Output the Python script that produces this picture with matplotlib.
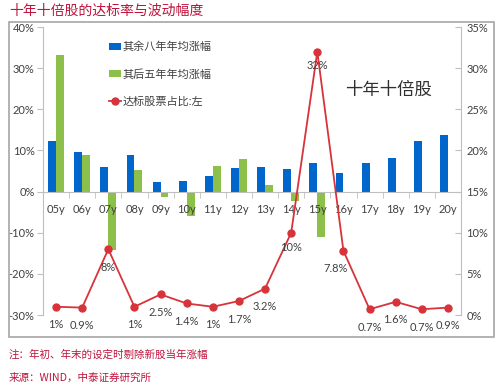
import matplotlib
matplotlib.use("Agg")
import matplotlib.pyplot as plt
from matplotlib.patches import Rectangle
import numpy as np

plt.rcParams['font.family'] = ['Lato', 'Noto Sans CJK SC', 'DejaVu Sans']

categories = ["05y", "06y", "07y", "08y", "09y", "10y", "11y", "12y",
              "13y", "14y", "15y", "16y", "17y", "18y", "19y", "20y"]
blue_vals = [12.4, 9.6, 5.9, 8.8, 2.4, 2.6, 3.9, 5.7, 5.9, 5.5, 6.9, 4.5, 7.0, 8.2, 12.4, 13.8]
green_vals = [33.2, 8.8, -14.2, 5.3, -1.4, -5.9, 6.2, 8.0, 1.6, -2.4, -11.0, np.nan, np.nan, np.nan, np.nan, np.nan]
red_vals = [1, 0.9, 8, 1, 2.5, 1.4, 1, 1.7, 3.2, 10, 32, 7.8, 0.7, 1.6, 0.7, 0.9]
red_labels = ["1%", "0.9%", "8%", "1%", "2.5%", "1.4%", "1%", "1.7%", "3.2%", "10%", "32%", "7.8%", "0.7%", "1.6%", "0.7%", "0.9%"]

blue_name = "其余八年年均涨幅"
green_name = "其后五年年均涨幅"
red_name = "达标股票占比:左"
title = "十年十倍股的达标率与波动幅度"
note1 = "注：年初、年末的设定时剔除新股当年涨幅"
note2 = "来源：WIND，中泰证券研究所"

BLUE = "#0066CC"
GREEN = "#8DC04B"
RED = "#D8333A"
CRIMSON = "#C0143C"
AXC = "#BFBFBF"
TXT = "#404040"

fig = plt.figure(figsize=(5.02, 3.91), dpi=100)
ax = fig.add_axes([43/502, 1-315/391, (461-43)/502, (315-27)/391])
ax2 = ax.twinx()

x = np.arange(len(categories))
w = 0.3
ax.bar(x - w/2, blue_vals, w, color=BLUE, label=blue_name, zorder=2)
ax.bar(x + w/2, green_vals, w, color=GREEN, label=green_name, zorder=2)
ax.set_axisbelow(False)

ax.set_xlim(-0.5, len(categories) - 0.5)
ax.set_ylim(-30, 40)
ax.set_yticks(np.arange(-30, 41, 10))
ax.set_yticklabels([f"{v}%" for v in range(-30, 41, 10)])

ax.spines['bottom'].set_position(('data', 0))
for s in ['top', 'right']:
    ax.spines[s].set_visible(False)
for s in ['left', 'bottom']:
    ax.spines[s].set_color(AXC)
ax.set_xticks(x)
ax.set_xticklabels(categories)
ax.set_xticks(np.arange(-0.5, len(categories), 1), minor=True)
ax.tick_params(axis='x', which='major', length=0, pad=9, labelsize=8, labelcolor=TXT)
ax.tick_params(axis='x', which='minor', length=4, color=AXC, direction='out')
ax.tick_params(axis='y', length=4, color=AXC, labelsize=8, labelcolor=TXT, pad=2)

ax2.plot(x, red_vals, color=RED, lw=1.3, marker='o', ms=5, label=red_name, zorder=3)
ax2.set_ylim(0, 35)
ax2.set_yticks(np.arange(0, 36, 5))
ax2.set_yticklabels([f"{v}%" for v in range(0, 36, 5)])
for s in ['top', 'left', 'bottom']:
    ax2.spines[s].set_visible(False)
ax2.spines['right'].set_color(AXC)
ax2.tick_params(axis='y', length=4, color=AXC, direction='in', labelsize=8, labelcolor=TXT, pad=4)

offsets = {i: (0, -13) for i in range(len(categories))}
offsets[9] = (0, -11)
offsets[10] = (0, -10)
offsets[11] = (-6, -13)
for i, (v, lab) in enumerate(zip(red_vals, red_labels)):
    dx, dy = offsets[i]
    ax2.annotate(lab, (x[i], v), xytext=(dx, dy), textcoords='offset points',
                 ha='center', va='center', fontsize=8, color=TXT, zorder=4)

h1, l1 = ax.get_legend_handles_labels()
h2, l2 = ax2.get_legend_handles_labels()
leg = ax.legend(h1 + h2, l1 + l2, loc='upper left', bbox_to_anchor=(0.135, 0.985),
                frameon=False, fontsize=8, labelspacing=1.45, handlelength=1.0,
                handletextpad=0.2, labelcolor=TXT)

fig.text(389/502, 1-90/391, "十年十倍股", ha='center', va='center', fontsize=12.5,
         color="#303030", family=['Noto Sans CJK SC'])

fig.text(9/502, 1-11/391, title, ha='left', va='center', fontsize=10, color=CRIMSON,
         family=['Noto Sans CJK SC'])
fig.text(9/502, 1-355/391, note1, ha='left', va='center', fontsize=7.6, color=CRIMSON,
         family=['Noto Sans CJK SC'])
fig.text(9/502, 1-378/391, note2, ha='left', va='center', fontsize=7.6, color=CRIMSON,
         family=['Noto Sans CJK SC'])

fig.patches.append(Rectangle((9/502, 1-337/391), (494-9)/502, (337-22)/391,
                             transform=fig.transFigure, fill=False, edgecolor="#A6A6A6", lw=1.2))

fig.savefig("out.png", dpi=100)
